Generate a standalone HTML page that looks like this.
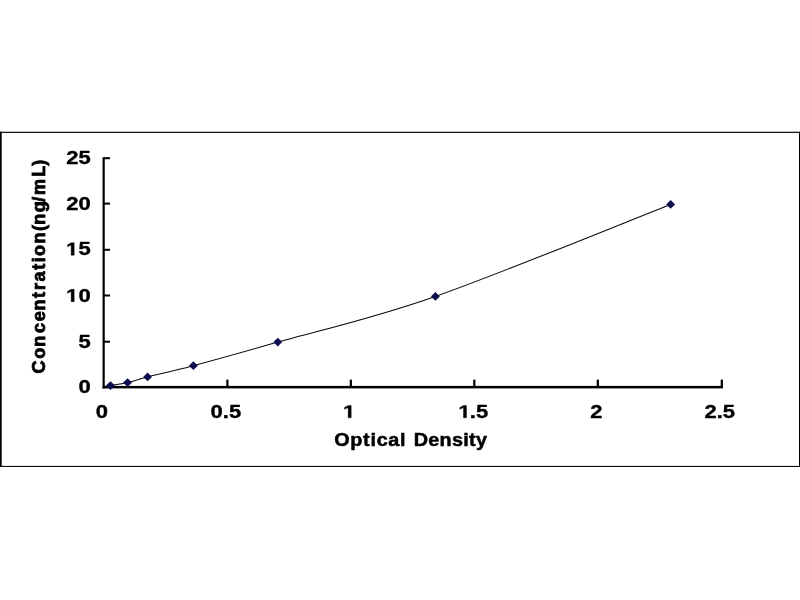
<!DOCTYPE html>
<html><head><meta charset="utf-8"><title>Standard Curve</title>
<style>
html,body{margin:0;padding:0;background:#fff;}
body{width:800px;height:600px;overflow:hidden;}
svg{display:block;}
.t{font-family:"Liberation Sans",sans-serif;font-weight:bold;font-size:18.5px;fill:#000;stroke:#000;stroke-width:0.35px;}
.d{font-size:18px;}
.g{fill:#000;stroke:#000;stroke-width:40;}
</style></head><body>
<svg width="800" height="600" viewBox="0 0 800 600">
<defs><filter id="soft" x="0" y="0" width="800" height="600" filterUnits="userSpaceOnUse"><feGaussianBlur stdDeviation="0.4"/></filter></defs>
<g filter="url(#soft)">
<rect x="0" y="0" width="800" height="600" fill="#fff"/>
<rect x="0" y="131.75" width="800" height="1.15" fill="#000"/>
<rect x="0" y="465.9" width="800" height="1.05" fill="#000"/>
<rect x="-1" y="131.75" width="2.7" height="335.2" fill="#000"/>
<rect x="799" y="131.75" width="2" height="335.2" fill="#000"/>
<rect x="102.55" y="157.2" width="2.2" height="231.3" fill="#000"/>
<rect x="102.7" y="385.9" width="620.2" height="2.5" fill="#000"/>
<rect x="104" y="386.10" width="6" height="2.0" fill="#000"/>
<text transform="translate(78.46 393.20) scale(1.223 1)" text-anchor="start" class="t d">0</text>
<rect x="104" y="340.70" width="6" height="2.0" fill="#000"/>
<text transform="translate(78.46 347.90) scale(1.223 1)" text-anchor="start" class="t d">5</text>
<rect x="104" y="294.50" width="6" height="2.0" fill="#000"/>
<path transform="translate(66.21 301.70) scale(0.01075 -0.00879)" d="M460 0L460 1170L122 959L122 1180L475 1409L741 1409L741 0Z" class="g"/>
<text transform="translate(78.46 301.70) scale(1.223 1)" text-anchor="start" class="t d">0</text>
<rect x="104" y="248.80" width="6" height="2.0" fill="#000"/>
<path transform="translate(66.21 255.20) scale(0.01075 -0.00879)" d="M460 0L460 1170L122 959L122 1180L475 1409L741 1409L741 0Z" class="g"/>
<text transform="translate(78.46 255.20) scale(1.223 1)" text-anchor="start" class="t d">5</text>
<rect x="104" y="202.60" width="6" height="2.0" fill="#000"/>
<text transform="translate(66.21 210.40) scale(1.223 1)" text-anchor="start" class="t d">20</text>
<rect x="104" y="157.20" width="6" height="2.0" fill="#000"/>
<text transform="translate(66.21 163.70) scale(1.223 1)" text-anchor="start" class="t d">25</text>
<text transform="translate(95.78 417.80) scale(1.223 1)" text-anchor="start" class="t d">0</text>
<rect x="226.28" y="379.6" width="2.2" height="8" fill="#000"/>
<text transform="translate(210.57 417.80) scale(1.223 1)" text-anchor="start" class="t d">0.5</text>
<rect x="349.75" y="379.6" width="2.2" height="8" fill="#000"/>
<path transform="translate(343.23 417.80) scale(0.01075 -0.00879)" d="M460 0L460 1170L122 959L122 1180L475 1409L741 1409L741 0Z" class="g"/>
<rect x="473.22" y="379.6" width="2.2" height="8" fill="#000"/>
<path transform="translate(458.52 417.80) scale(0.01075 -0.00879)" d="M460 0L460 1170L122 959L122 1180L475 1409L741 1409L741 0Z" class="g"/>
<text transform="translate(469.77 417.80) scale(1.223 1)" text-anchor="start" class="t d">.5</text>
<rect x="596.70" y="379.6" width="2.2" height="8" fill="#000"/>
<text transform="translate(590.18 417.80) scale(1.223 1)" text-anchor="start" class="t d">2</text>
<rect x="720.70" y="379.6" width="2.2" height="8" fill="#000"/>
<text transform="translate(704.47 417.80) scale(1.223 1)" text-anchor="start" class="t d">2.5</text>
<text transform="translate(334.2 446.1) scale(1.07 1)" text-anchor="start" textLength="66.73" lengthAdjust="spacing" class="t" style="stroke-width:0.5px">Optical</text>
<text transform="translate(413.7 446.1) scale(1.07 1)" text-anchor="start" textLength="68.50" lengthAdjust="spacing" class="t" style="stroke-width:0.5px">Density</text>
<text transform="translate(45.20 372.00) rotate(-90) scale(0.975 1)" x="-1.58 13.68 25.80 39.89 51.99 63.03 75.89 84.14 92.83 104.92 112.67 118.97 131.75 144.67 151.08 163.97 174.51 181.64 200.32 211.47" class="t" style="stroke-width:0.8px">Concentration(ng/mL)</text>
<path d="M110.5 385.6 C113.3 385.1 121.4 384.1 127.6 382.6 C133.8 381.2 136.6 379.7 147.6 376.9 C158.6 374.1 171.6 371.5 193.3 365.7 C215.0 359.9 237.5 353.7 277.8 342.1 C318.1 330.6 369.9 319.3 435.4 296.4 C500.9 273.4 631.4 219.7 670.6 204.4" fill="none" stroke="#08080f" stroke-width="1.05"/>
<path d="M106.0 385.6 L110.5 381.2 L115.0 385.6 L110.5 390.1Z" fill="#0e0e4e"/>
<path d="M123.1 382.6 L127.6 378.2 L132.0 382.6 L127.6 387.1Z" fill="#0e0e4e"/>
<path d="M143.2 376.9 L147.6 372.4 L152.0 376.9 L147.6 381.3Z" fill="#0e0e4e"/>
<path d="M188.9 365.7 L193.3 361.2 L197.8 365.7 L193.3 370.1Z" fill="#0e0e4e"/>
<path d="M273.4 342.1 L277.8 337.7 L282.2 342.1 L277.8 346.6Z" fill="#0e0e4e"/>
<path d="M430.9 296.4 L435.4 291.9 L439.8 296.4 L435.4 300.8Z" fill="#0e0e4e"/>
<path d="M666.1 204.4 L670.6 200.0 L675.1 204.4 L670.6 208.8Z" fill="#0e0e4e"/>
</g>
</svg>
</body></html>
